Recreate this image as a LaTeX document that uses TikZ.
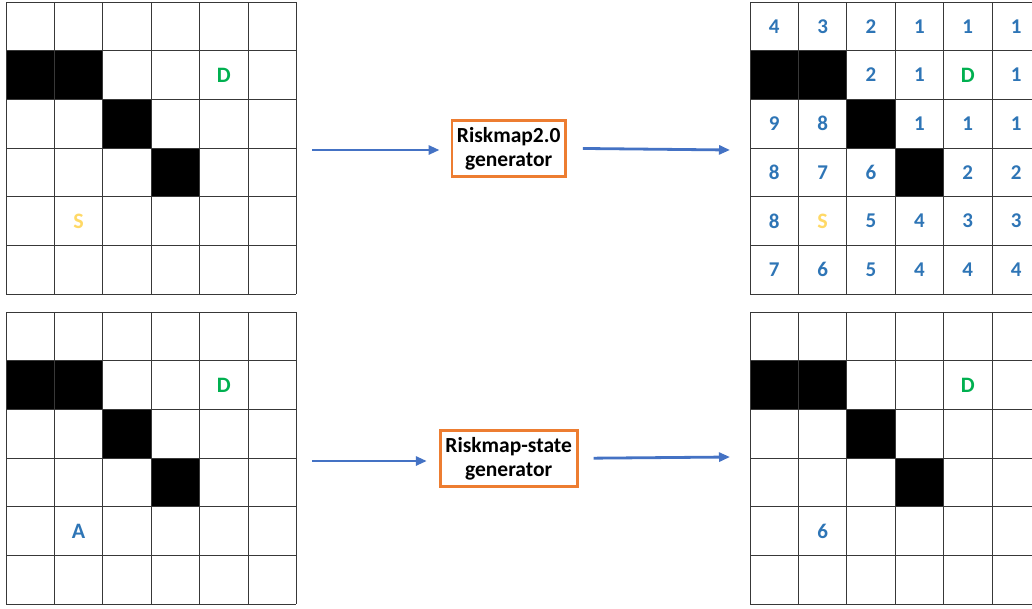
\documentclass[tikz,border=0pt]{standalone}
\usepackage{fontspec}
\setmainfont{Carlito}
\usetikzlibrary{arrows.meta}
\definecolor{numblue}{HTML}{2E75B6}
\definecolor{arrblue}{HTML}{4472C4}
\definecolor{orgbox}{HTML}{ED7D31}
\definecolor{dgreen}{HTML}{00B050}
\definecolor{sgold}{HTML}{FFD966}
\newcommand\cw{48.4}
\newcommand\ch{48.7}
% \gridbase{xoff}{yoff}: obstacles and lines of a 6x6 grid
\newcommand\gridbase[2]{%
  \begin{scope}[shift={(#1,#2)}]
    \fill[blk] (0,{1*\ch}) rectangle ({2*\cw},{2*\ch});
    \fill[blk] ({2*\cw},{2*\ch}) rectangle ({3*\cw},{3*\ch});
    \fill[blk] ({3*\cw},{3*\ch}) rectangle ({4*\cw},{4*\ch});
    \foreach \k in {0,...,6}{
      \draw[gridline] ({\k*\cw},0) -- ({\k*\cw},{6*\ch});
      \draw[gridline] (0,{\k*\ch}) -- ({6*\cw},{\k*\ch});
    }
  \end{scope}}
% \celltext{name}{xoff}{yoff}{col}{row}{style}{text}
\newcommand\celltext[7]{%
  \node[#6] (#1) at ({#2+(#4+0.5)*\cw},{#3+(#5+0.5)*\ch}) {#7};}
\tikzset{
  gridline/.style={draw=black!78, line width=1pt},
  blk/.style={fill=black},
  num/.style={font=\fontsize{21}{21}\selectfont\bfseries, text=numblue, inner sep=0pt},
  dest/.style={font=\fontsize{22}{22}\selectfont\bfseries, text=dgreen, inner sep=0pt},
  srcmark/.style={font=\fontsize{22}{22}\selectfont\bfseries, text=sgold, inner sep=0pt},
  agent/.style={font=\fontsize{22}{22}\selectfont\bfseries, text=numblue, inner sep=0pt},
  gen/.style={draw=orgbox, line width=2.8pt, fill=white, align=center, inner sep=0pt,
    font=\fontsize{21.5}{24}\selectfont\bfseries, minimum height=56pt},
  flow/.style={draw=arrblue, line width=2.8pt, -{Triangle[length=11pt,width=9pt]}}
}
\begin{document}
\begin{tikzpicture}[x=1pt,y=-1pt]
\useasboundingbox (0,0) rectangle (1032,608);
\clip (0,0) rectangle (1032,608);
\fill[white] (0,0) rectangle (1032,608);

% grids
\gridbase{6}{2}
\gridbase{6}{312}
\gridbase{750}{2}
\gridbase{750}{312}

% top-left labels
\celltext{tlD}{6}{2}{4}{1}{dest}{D}
\celltext{tlS}{6}{2}{1}{4}{srcmark}{S}
% bottom-left labels
\celltext{blD}{6}{312}{4}{1}{dest}{D}
\celltext{blA}{6}{312}{1}{4}{agent}{A}
% bottom-right labels
\celltext{brD}{750}{312}{4}{1}{dest}{D}
\celltext{br6}{750}{312}{1}{4}{num}{6}

% top-right risk map
\foreach \r/\vals in {0/{4,3,2,1,1,1},1/{,,2,1,,1},2/{9,8,,1,1,1},3/{8,7,6,,2,2},4/{8,,5,4,3,3},5/{7,6,5,4,4,4}}{
  \foreach \v [count=\c from 0] in \vals {
    \node[num] (tr-\c-\r) at ({750+(\c+0.5)*\cw},{2+(\r+0.5)*\ch}) {\v};
  }
}
\celltext{trD}{750}{2}{4}{1}{dest}{D}
\celltext{trS}{750}{2}{1}{4}{srcmark}{S}

% generators
\node[gen, minimum width=113.5pt] (gen1) at (508.7,148.3) {Riskmap2.0\\generator};
\node[gen, minimum width=137pt] (gen2) at (508.7,458.3) {Riskmap-state\\generator};

% arrow endpoints
\coordinate (a1s) at (312,150);
\coordinate (a1e) at (730,150);
\coordinate (a2s) at (312,461);
\coordinate (a2e) at (730,457);

\draw[flow, shorten >=11pt] (a1s) -- (a1s -| gen1.west);
\draw[flow, shorten <=16pt] (gen1.east) -- (a1e);
\draw[flow, shorten >=12pt] (a2s) -- (a2s -| gen2.west);
\draw[flow, shorten <=15pt] (gen2.east) -- (a2e);
\end{tikzpicture}
\end{document}
